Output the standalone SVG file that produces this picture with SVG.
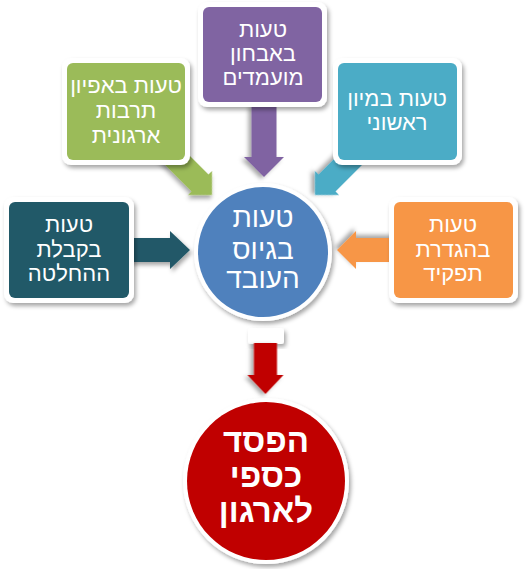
<svg xmlns="http://www.w3.org/2000/svg" width="531" height="569" viewBox="0 0 531 569">
<defs>
<filter id="sh" x="-20%" y="-20%" width="150%" height="150%">
<feDropShadow dx="2" dy="3" stdDeviation="2" flood-color="#000" flood-opacity="0.35"/>
</filter>
</defs>
<style>
.t{font-family:"Liberation Sans","DejaVu Sans",sans-serif;fill:#fff;text-anchor:middle;font-size:22px}
.tc{font-family:"Liberation Sans","DejaVu Sans",sans-serif;fill:#fff;text-anchor:middle;font-size:28px}
.tr{font-family:"Liberation Sans","DejaVu Sans",sans-serif;fill:#fff;text-anchor:middle;font-size:33px;font-weight:bold}
.frame{fill:#fff;filter:url(#sh)}
</style>
<rect width="531" height="569" fill="#fff"/>
<g id="connectors">
<polygon filter="url(#sh)" fill="#8064A2" transform="translate(264,177) rotate(90)" points="0,0 -20,-20 -20,-12.5 -72,-12.5 -72,12.5 -20,12.5 -20,20"/>
<polygon filter="url(#sh)" fill="#9BBB59" transform="translate(212,195) rotate(45)" points="0,0 -17,-17 -17,-12 -68,-12 -68,12 -17,12 -17,17"/>
<polygon filter="url(#sh)" fill="#4BACC6" transform="translate(315,195) rotate(135)" points="0,0 -17,-17 -17,-12 -68,-12 -68,12 -17,12 -17,17"/>
<polygon filter="url(#sh)" fill="#215968" transform="translate(190,250)" points="0,0 -20,-19 -20,-12 -64,-12 -64,12 -20,12 -20,19"/>
<polygon filter="url(#sh)" fill="#F79646" transform="translate(337,250) rotate(180)" points="0,0 -19,-19 -19,-12 -62,-12 -62,12 -19,12 -19,19"/>
<rect class="frame" x="248" y="328" width="36" height="16" rx="3"/>
<polygon filter="url(#sh)" fill="#C00000" transform="translate(265.5,394) rotate(90)" points="0,0 -19,-18 -19,-11.5 -51,-11.5 -51,11.5 -19,11.5 -19,18"/>
</g>
<g id="node-purple">
<rect class="frame" x="198" y="2" width="129" height="105" rx="9"/>
<rect fill="#8064A2" x="203" y="7" width="119" height="95" rx="6"/>
<text class="t" x="263" y="37">טעות</text>
<text class="t" x="263" y="61">באבחון</text>
<text class="t" x="263" y="85">מועמדים</text>
</g>
<g id="node-green">
<rect class="frame" x="62" y="58" width="128" height="107" rx="9"/>
<rect fill="#9BBB59" x="67" y="63" width="118" height="97" rx="6"/>
<text class="t" x="126" y="93">טעות באפיון</text>
<text class="t" x="126" y="118">תרבות</text>
<text class="t" x="126" y="143">ארגונית</text>
</g>
<g id="node-teal">
<rect class="frame" x="333" y="58" width="129" height="107" rx="9"/>
<rect fill="#4BACC6" x="338" y="63" width="119" height="97" rx="6"/>
<text class="t" x="397" y="106">טעות במיון</text>
<text class="t" x="397" y="130">ראשוני</text>
</g>
<g id="node-dark">
<rect class="frame" x="4" y="197" width="130" height="106" rx="9"/>
<rect fill="#215968" x="9" y="202" width="120" height="96" rx="6"/>
<text class="t" x="69" y="232">טעות</text>
<text class="t" x="69" y="257">בקבלת</text>
<text class="t" x="69" y="281">ההחלטה</text>
</g>
<g id="node-orange">
<rect class="frame" x="389" y="197" width="129" height="106" rx="9"/>
<rect fill="#F79646" x="394" y="202" width="119" height="96" rx="6"/>
<text class="t" x="453" y="232">טעות</text>
<text class="t" x="453" y="257">בהגדרת</text>
<text class="t" x="453" y="281">תפקיד</text>
</g>
<g id="node-center">
<circle class="frame" cx="263" cy="252" r="69"/>
<circle fill="#4F81BD" cx="263" cy="252" r="65"/>
<text class="tc" x="263" y="227">טעות</text>
<text class="tc" x="263" y="259">בגיוס</text>
<text class="tc" x="263" y="288">העובד</text>
</g>
<g id="node-red">
<circle class="frame" cx="266" cy="481" r="83"/>
<circle fill="#C00000" cx="266" cy="481" r="79"/>
<text class="tr" x="266" y="452">הפסד</text>
<text class="tr" x="266" y="487">כספי</text>
<text class="tr" x="266" y="522">לארגון</text>
</g>
</svg>
